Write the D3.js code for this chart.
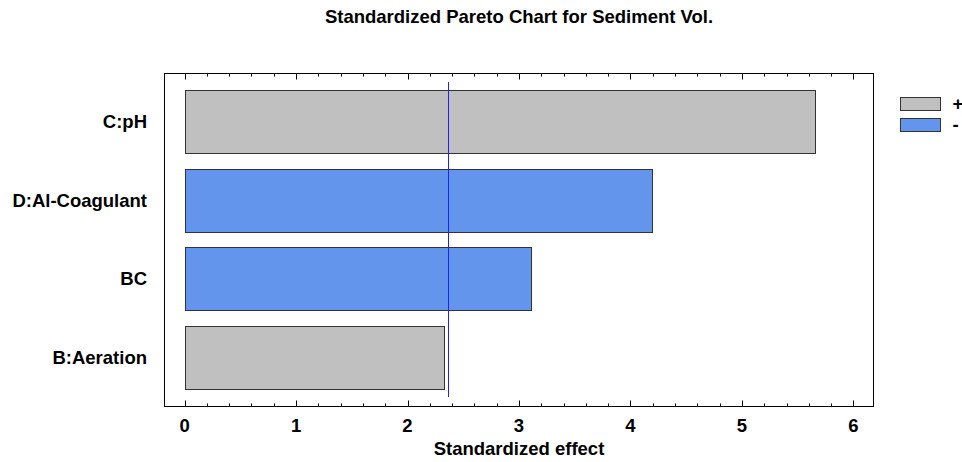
<!DOCTYPE html>
<html>
<head>
<meta charset="utf-8">
<script src="https://cdn.jsdelivr.net/npm/d3@7"></script>
<style>
  body { margin: 0; background: #fff; }
  text { font-family: "Liberation Sans", Arial, sans-serif; font-weight: bold; fill: #000; }
</style>
</head>
<body>
<svg id="chart" width="962" height="462"></svg>
<script>
var width = 962, height = 462;

// data
var factors = ["C:pH", "D:Al-Coagulant", "BC", "B:Aeration"];
var effects = [5.65, 4.19, 3.10, 2.32];
var signs = ["+", "-", "-", "+"];
var critical = 2.365;
var xTicks = [0, 1, 2, 3, 4, 5, 6];
var legendKeys = ["+", "-"];

var colors = { "+": "#c0c0c0", "-": "#6495ed" };

function draw()
{
    var svg = d3.select("svg"),
        box = { left: 164.5, right: 873.5, top: 73.5, bottom: 406.5 },
        x = d3.scaleLinear().domain([-0.18, 6.18]).range([box.left, box.right]),
        y = d3.scaleBand().domain(factors).range([82, 397])
              .paddingInner(0.2).paddingOuter(0.1);

    // title
    svg.append("text")
      .attr("x", (box.left + box.right) / 2)
      .attr("y", 23)
      .attr("text-anchor", "middle")
      .style("font-size", "18.5px")
      .text("Standardized Pareto Chart for Sediment Vol.");

    // bars
    svg.selectAll("rect.bar")
      .data(factors)
      .enter().append("rect")
      .attr("class", "bar")
      .attr("x", Math.round(x(0)) + 0.5)
      .attr("y", function(d) { return Math.round(y(d)) + 0.5; })
      .attr("width", function(d, i) { return Math.round(x(effects[i]) - x(0)); })
      .attr("height", Math.round(y.bandwidth()))
      .attr("fill", function(d, i) { return colors[signs[i]]; })
      .attr("stroke", "#333")
      .attr("stroke-width", 1);

    // reference line
    svg.append("line")
      .attr("x1", Math.round(x(critical)) + 0.5)
      .attr("x2", Math.round(x(critical)) + 0.5)
      .attr("y1", y.range()[0])
      .attr("y2", y.range()[1])
      .attr("stroke", "#2020ff")
      .attr("stroke-width", 1);

    // plot frame
    svg.append("rect")
      .attr("x", box.left).attr("y", box.top)
      .attr("width", box.right - box.left)
      .attr("height", box.bottom - box.top)
      .attr("fill", "none")
      .attr("stroke", "#000")
      .attr("stroke-width", 1);

    // ticks, inward on top and bottom
    var minor = d3.range(0, 6.01, 0.2);
    var ticks = svg.append("g");
    minor.forEach(function(v) {
      var isMajor = Math.abs(v - Math.round(v)) < 1e-6,
          len = isMajor ? 6 : 3,
          px = Math.round(x(v)) + 0.5;
      ticks.append("line")
        .attr("x1", px).attr("x2", px)
        .attr("y1", box.bottom).attr("y2", box.bottom - len)
        .attr("stroke", "#000");
      ticks.append("line")
        .attr("x1", px).attr("x2", px)
        .attr("y1", box.top).attr("y2", box.top + len)
        .attr("stroke", "#000");
    });

    // x tick labels
    svg.selectAll("text.xtick")
      .data(xTicks)
      .enter().append("text")
      .attr("class", "xtick")
      .attr("x", function(d) { return x(d); })
      .attr("y", 432)
      .attr("text-anchor", "middle")
      .style("font-size", "18.5px")
      .text(function(d) { return d; });

    svg.append("text")
      .attr("x", (box.left + box.right) / 2)
      .attr("y", 455)
      .attr("text-anchor", "middle")
      .style("font-size", "18.5px")
      .text("Standardized effect");

    // y labels
    svg.selectAll("text.ylab")
      .data(factors)
      .enter().append("text")
      .attr("class", "ylab")
      .attr("x", 147)
      .attr("y", function(d) { return y(d) + y.bandwidth() / 2; })
      .attr("dy", "0.35em")
      .attr("text-anchor", "end")
      .style("font-size", "18.5px")
      .text(function(d) { return d; });

    // legend
    var legend = svg.selectAll("g.legend")
      .data(legendKeys)
      .enter().append("g")
      .attr("class", "legend")
      .attr("transform", function(d, i) { return "translate(900.5," + (97.5 + i * 21) + ")"; });
    legend.append("rect")
      .attr("width", 40).attr("height", 13)
      .attr("fill", function(d) { return colors[d]; })
      .attr("stroke", "#333");
    legend.append("text")
      .attr("x", 52).attr("y", 6.5)
      .attr("dy", "0.35em")
      .style("font-size", "18.5px")
      .text(function(d) { return d; });
}

draw();
</script>
</body>
</html>
